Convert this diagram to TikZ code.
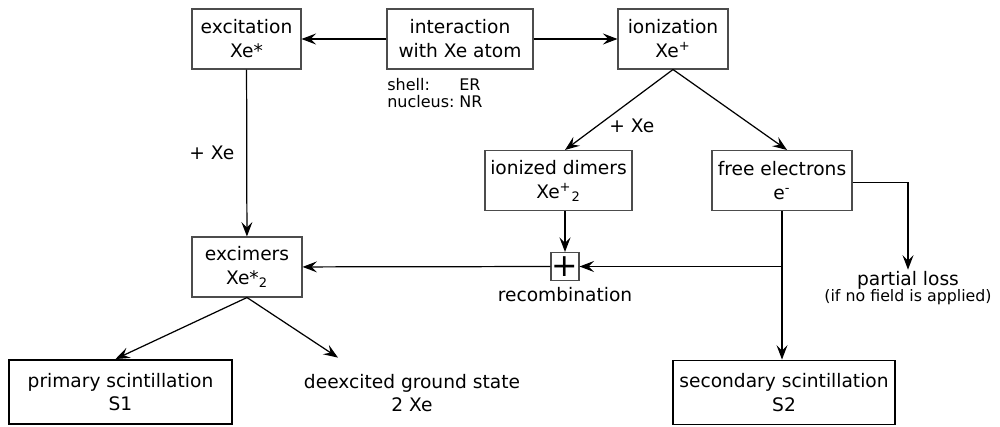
\documentclass[tikz,border=0pt]{standalone}
\usepackage{fontspec}
\setmainfont{DejaVu Sans}
\usepackage{tikz}
\usetikzlibrary{arrows.meta,positioning}

\tikzset{
  box/.style={draw=black!70,line width=0.6pt,align=center,minimum height=1.2cm,inner sep=2pt},
  bigbox/.style={draw,line width=1.1pt,align=center,minimum height=1.28cm,inner sep=2pt},
  link/.style={->,line width=0.7pt},
}

\begin{document}
\begin{tikzpicture}[x=0.02cm,y=-0.02cm,
    font=\fontsize{10.6}{13.6}\selectfont,
    >={Stealth[length=2.9mm,width=2.2mm,inset=1.1mm]}]
\useasboundingbox (0,0) rectangle (1000,426);

\node[box,minimum width=2.18cm] at (246.5,39) (exc) {excitation\\Xe*};
\node[box,minimum width=2.92cm] at (460,39) (inter) {interaction\\with Xe atom};
\node[box,minimum width=2.2cm] at (673,39) (ion) {ionization\\Xe\textsuperscript{+}};
\node[font=\fontsize{9.1}{16}\selectfont,inner sep=0pt,anchor=north west] at (387,70) (kind)
    {\begin{tabular}{@{}l@{\hspace{1.4em}}l@{}}shell: & ER\\[-6pt] nucleus:\hspace{-1.1em} & NR\end{tabular}};

\node[box,minimum width=2.2cm] at (247,267) (excm) {excimers\\Xe*\textsubscript{2}};
\node[box,minimum width=2.94cm] at (558.5,180.5) (dim) {ionized dimers\\Xe\textsuperscript{+}\textsubscript{2}};
\node[box,minimum width=2.8cm] at (782,180.5) (free) {free electrons\\e\textsuperscript{-}};

\node[draw=black!70,line width=0.6pt,minimum size=0.56cm,inner sep=0pt,font=\fontsize{18}{18}\selectfont] at (565,266.5) (plus) {+};
\node[below=0pt of plus] (rec) {recombination};
\node[align=center] at (908,288) (loss) {partial loss\\[-4pt]{\fontsize{9}{11}\selectfont (if no field is applied)}};

\node[bigbox,minimum width=4.46cm] at (120.5,392) (s1) {primary scintillation\\S1};
\node[align=center] at (412,393) (ground) {deexcited ground state\\2 Xe};
\node[bigbox,minimum width=4.44cm] at (784,392.5) (s2) {secondary scintillation\\S2};

% first step
\draw[link] (inter) -- (exc);
\draw[link] (inter) -- (ion);
\draw[link] (exc) -- node[left=0.12cm] {+ Xe} (excm);
\draw[link] (ion.south) -- node[pos=0.7,right=0.11cm] {+ Xe} (dim.north -| plus.north);
\draw[link] (ion.south) -- ([xshift=0.1cm]free.north);

% recombination
\coordinate (join) at (free.south |- plus);
\draw[link] (dim.south -| plus) -- (plus);
\draw[line width=0.7pt] (free.south) -- (join);
\draw[link] (join) -- (plus);
\draw[link] (plus) -- (excm);
\draw[link] ([yshift=-0.04cm]free.east) -| ([yshift=-0.1cm]loss.north);
\draw[link] (join) -- (free.south |- s2.north);

% decay
\draw[link] (excm.south) -- ([xshift=-0.1cm]s1.north);
\draw[link] (excm.south) -- ([xshift=-1.48cm,yshift=0.2cm]ground.north);
\end{tikzpicture}
\end{document}
